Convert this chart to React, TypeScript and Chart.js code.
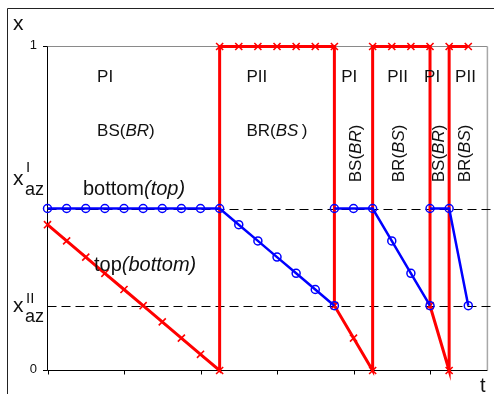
import React, { useEffect, useRef } from 'react';
import { Chart, registerables } from 'chart.js';

Chart.register(...registerables);

// ---- data ----
const redT = [0, 1, 2, 3, 4, 5, 6, 7, 8, 9, 9, 10, 11, 12, 13, 14, 15, 15, 16, 17, 17, 18, 19, 20, 20, 21, 21, 22];
const redX = [0.45, 0.4, 0.35, 0.3, 0.25, 0.2, 0.15, 0.1, 0.05, 0, 1, 1, 1, 1, 1, 1, 1, 0.2, 0.1, 0, 1, 1, 1, 1, 0.2, 0, 1, 1];
const blueT = [0, 1, 2, 3, 4, 5, 6, 7, 8, 9, 10, 11, 12, 13, 14, 15, 15, 15, 16, 17, 18, 19, 20, 20, 20, 21, 22];
const blueX = [0.5, 0.5, 0.5, 0.5, 0.5, 0.5, 0.5, 0.5, 0.5, 0.5, 0.45, 0.4, 0.35, 0.3, 0.25, 0.2, null, 0.5, 0.5, 0.5, 0.4, 0.3, 0.2, null, 0.5, 0.5, 0.2];
const xTicks = [0, 4, 8, 12, 16, 20];
const yTickValues = [0, 1];
const yTickLabels = ['0', '1'];
const azLevels = [0.5, 0.2];
const azLabels = ['I', 'II'];
const phaseLabels = ['PI', 'PII', 'PI', 'PII', 'PI', 'PII'];
const regimeLabels = ['BS|BR', 'BR|BS', 'BS|BR', 'BR|BS', 'BS|BR', 'BR|BS'];

// ---- layout (not data) ----
const phaseT = [2.59, 10.4, 15.36, 17.76, 19.69, 21.31];
const PHASE_V = 0.89;
const REGIME_V = 0.725;
const rotT = [16.15, 18.39, 20.48, 21.83];
const ROT_V = 0.67;
const FONT = '"Liberation Sans", Arial, sans-serif';

type Part = { text: string; italic?: boolean };

function partsWidth(ctx: CanvasRenderingContext2D, parts: Part[], size: number) {
  let w = 0;
  for (const p of parts) {
    ctx.font = `${p.italic ? 'italic ' : ''}${size}px ${FONT}`;
    w += ctx.measureText(p.text).width;
  }
  return w;
}

function drawParts(ctx: CanvasRenderingContext2D, parts: Part[], x: number, y: number, size: number) {
  let cx = x;
  for (const p of parts) {
    ctx.font = `${p.italic ? 'italic ' : ''}${size}px ${FONT}`;
    ctx.fillText(p.text, cx, y);
    cx += ctx.measureText(p.text).width;
  }
}

function regimeParts(label: string, gap: string): Part[] {
  const [a, b] = label.split('|');
  return [{ text: a + '(' }, { text: b, italic: true }, { text: gap + ')' }];
}

const decor = {
  id: 'decor',
  beforeDatasetsDraw(chart: any) {
    const ctx: CanvasRenderingContext2D = chart.ctx;
    const { left, right, top, bottom } = chart.chartArea;
    const xs = chart.scales.x;
    const ys = chart.scales.y;
    ctx.save();
    // outer frame
    ctx.strokeStyle = '#222';
    ctx.lineWidth = 1;
    ctx.beginPath();
    ctx.moveTo(7.5, 394);
    ctx.lineTo(7.5, 8.5);
    ctx.lineTo(494, 8.5);
    ctx.stroke();
    // top gridline / right border gray
    ctx.strokeStyle = '#8a8a8a';
    ctx.beginPath();
    ctx.moveTo(left, top);
    ctx.lineTo(right, top);
    ctx.stroke();
    ctx.strokeStyle = '#a8a8a8';
    ctx.lineWidth = 1.5;
    ctx.beginPath();
    ctx.moveTo(right, top);
    ctx.lineTo(right, bottom);
    ctx.stroke();
    // axes
    ctx.strokeStyle = '#000';
    ctx.lineWidth = 1;
    ctx.beginPath();
    ctx.moveTo(left, top);
    ctx.lineTo(left, bottom);
    ctx.lineTo(right, bottom);
    ctx.stroke();
    // ticks
    ctx.beginPath();
    for (const t of xTicks) {
      const px = Math.round(xs.getPixelForValue(t)) + 0.5;
      ctx.moveTo(px, bottom);
      ctx.lineTo(px, bottom + 4);
    }
    for (const v of yTickValues) {
      const py = ys.getPixelForValue(v);
      ctx.moveTo(left - 4.5, py);
      ctx.lineTo(left, py);
    }
    ctx.stroke();
    // tick labels
    ctx.fillStyle = '#111';
    ctx.textAlign = 'right';
    ctx.textBaseline = 'middle';
    ctx.font = `13px ${FONT}`;
    yTickValues.forEach((v, i) => {
      ctx.fillText(yTickLabels[i], 37, ys.getPixelForValue(v) - 1);
    });
    // dashed levels
    ctx.setLineDash([9, 5]);
    ctx.lineWidth = 1.2;
    ctx.strokeStyle = '#000';
    for (const lv of azLevels) {
      const py = Math.round(ys.getPixelForValue(lv)) + 0.5;
      ctx.beginPath();
      ctx.moveTo(left, py);
      ctx.lineTo(494, py);
      ctx.stroke();
    }
    ctx.setLineDash([]);
    // axis titles
    ctx.textAlign = 'left';
    ctx.textBaseline = 'alphabetic';
    ctx.font = `21px ${FONT}`;
    ctx.fillText('x', 13, 30);
    ctx.font = `20px ${FONT}`;
    ctx.fillText('t', 480, 392);
    // x_az labels
    const xBase = [185, 311.5];
    const supBase = [172, 302.7];
    const subBase = [195, 322];
    azLabels.forEach((lab, i) => {
      ctx.font = `21px ${FONT}`;
      ctx.fillText('x', 13, xBase[i]);
      ctx.font = `15px ${FONT}`;
      ctx.fillText(lab, 26, supBase[i]);
      ctx.font = `18px ${FONT}`;
      ctx.fillText('az', 25, subBase[i]);
    });
    ctx.restore();
  },
  afterDatasetsDraw(chart: any) {
    const ctx: CanvasRenderingContext2D = chart.ctx;
    const xs = chart.scales.x;
    const ys = chart.scales.y;
    ctx.save();
    ctx.fillStyle = '#111';
    ctx.textAlign = 'left';
    ctx.textBaseline = 'alphabetic';
    // phase labels
    phaseLabels.forEach((p, i) => {
      ctx.font = `17px ${FONT}`;
      ctx.fillText(p, xs.getPixelForValue(phaseT[i]), ys.getPixelForValue(PHASE_V));
    });
    // horizontal regime labels
    drawParts(ctx, regimeParts(regimeLabels[0], ''), xs.getPixelForValue(phaseT[0]), ys.getPixelForValue(REGIME_V), 17);
    drawParts(ctx, regimeParts(regimeLabels[1], '\u2009'), xs.getPixelForValue(phaseT[1]), ys.getPixelForValue(REGIME_V), 17);
    // rotated regime labels
    ctx.textBaseline = 'middle';
    rotT.forEach((t, i) => {
      const parts = regimeParts(regimeLabels[i + 2], '');
      const w = partsWidth(ctx, parts, 17);
      ctx.save();
      ctx.translate(xs.getPixelForValue(t), ys.getPixelForValue(ROT_V));
      ctx.rotate(-Math.PI / 2);
      drawParts(ctx, parts, -w / 2, 0, 17);
      ctx.restore();
    });
    // curve labels
    ctx.textBaseline = 'alphabetic';
    drawParts(ctx, [{ text: 'bottom' }, { text: '(top)', italic: true }], xs.getPixelForValue(1.85), ys.getPixelForValue(0.5417), 20);
    drawParts(ctx, [{ text: 'top' }, { text: '(bottom)', italic: true }], xs.getPixelForValue(2.43), ys.getPixelForValue(0.307), 20);
    ctx.restore();
  },
};

export default function App() {
  const ref = useRef<HTMLCanvasElement | null>(null);
  useEffect(() => {
    if (!ref.current) return;
    const redData = redT.map((t, i) => ({ x: t, y: redX[i] }));
    const blueData = blueT.map((t, i) => ({ x: t, y: blueX[i] }));
    const chart = new Chart(ref.current, {
      type: 'line',
      data: {
        datasets: [
          {
            label: 'red',
            data: redData as any,
            borderColor: '#ff0000',
            backgroundColor: '#ff0000',
            borderWidth: 3,
            pointStyle: 'crossRot',
            pointRadius: 5,
            pointBorderWidth: 1.6,
            pointBorderColor: '#ff0000',
            tension: 0,
            clip: false as any,
            order: 2,
          },
          {
            label: 'blue',
            data: blueData as any,
            borderColor: '#0000ff',
            backgroundColor: 'rgba(0,0,0,0)',
            borderWidth: 2.5,
            pointStyle: 'circle',
            pointRadius: 4,
            pointBorderWidth: 1.5,
            pointBorderColor: '#0000ff',
            pointBackgroundColor: 'rgba(0,0,0,0)',
            spanGaps: false,
            tension: 0,
            clip: false as any,
            order: 1,
          },
        ],
      },
      options: {
        animation: false,
        responsive: false,
        maintainAspectRatio: false,
        events: [],
        layout: { padding: { left: 47.5, top: 46.5, right: 5.5, bottom: 23.5 } },
        plugins: { legend: { display: false }, tooltip: { enabled: false }, title: { display: false } },
        scales: {
          x: { type: 'linear', min: 0, max: 23, display: false },
          y: { type: 'linear', min: 0, max: 1, display: false },
        },
      },
      plugins: [decor],
    });
    return () => chart.destroy();
  }, []);
  return (
    <div style={{ position: 'fixed', left: 0, top: 0, width: 494, height: 394, background: '#fff' }}>
      <canvas ref={ref} width={494} height={394} style={{ display: 'block', width: 494, height: 394 }} />
    </div>
  );
}
